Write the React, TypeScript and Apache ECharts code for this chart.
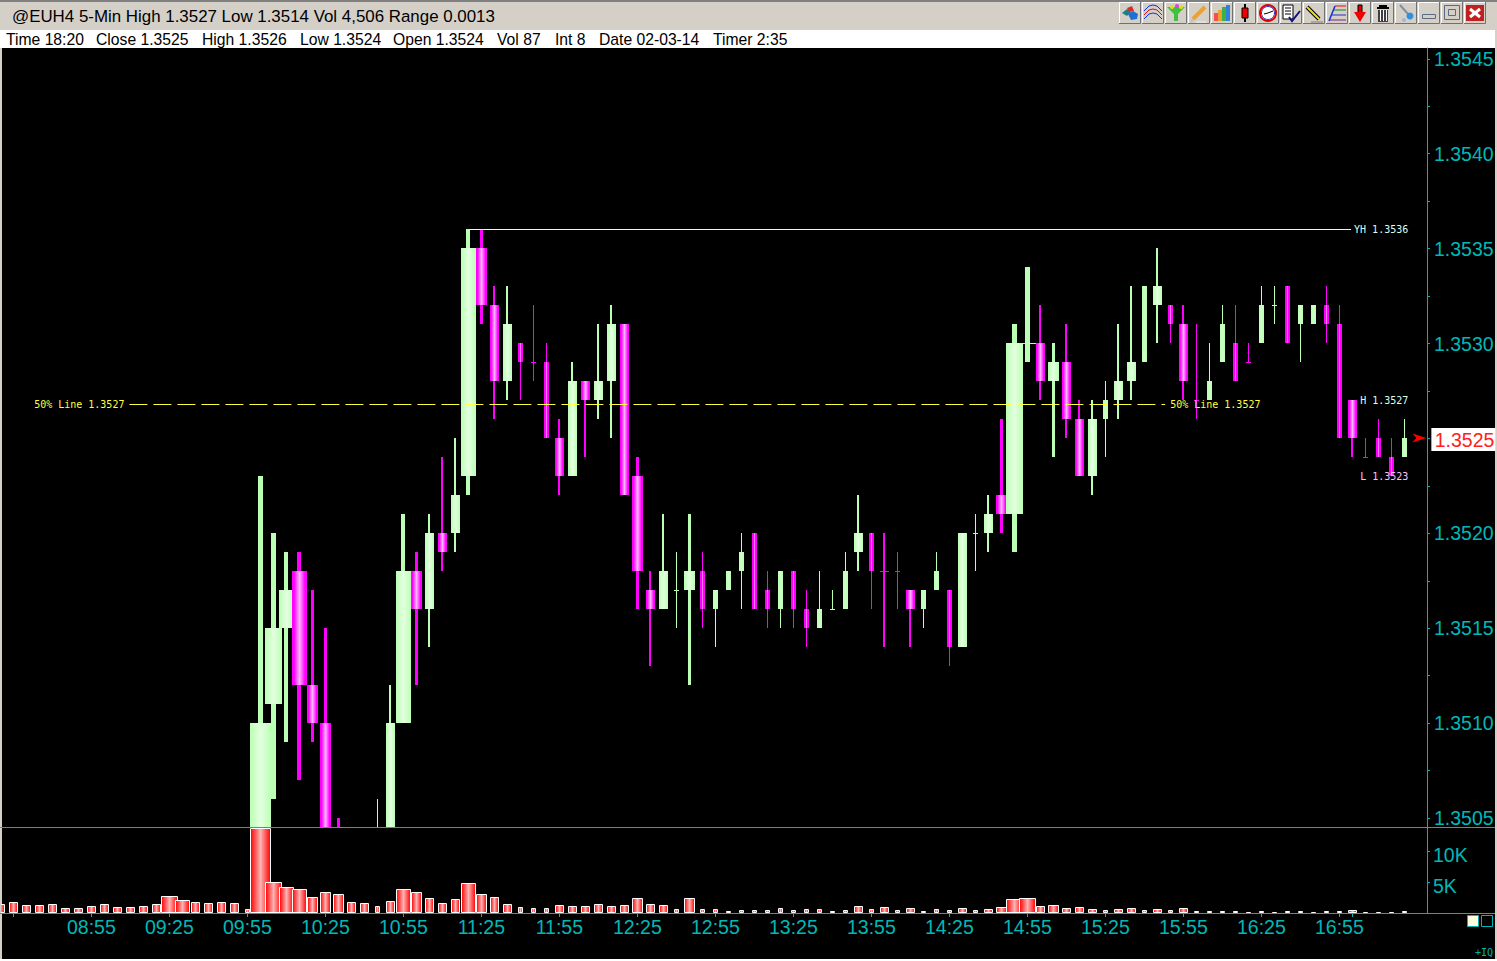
import React, { useEffect, useRef } from "react";
import * as echarts from "echarts";

// Per-bar data for 5-minute bars from 08:20 (index 0) to 17:20 (index 108).
// Bars 0-19 lie wholly below the visible price range, so only their volume is read.
const opens: (number | null)[] = [
  null, null, null, null, null, null, null, null, null, null, null, null, null, null, null, null, null, null, null, null,
  1.3503, 1.3511, 1.3515, 1.3518, 1.3512, 1.3510, 1.3504, 1.3498, 1.3500, 1.3500,
  1.3503, 1.3510, 1.3518, 1.3516, 1.3520, 1.3520, 1.3523, 1.3535, 1.3532, 1.3528,
  1.3530, 1.3529, 1.3529, 1.3525, 1.3523, 1.3528, 1.3527, 1.3528, 1.3531, 1.3523,
  1.3517, 1.3516, 1.3517, 1.3517, 1.3518, 1.3516, 1.3517, 1.3518, 1.3520, 1.3517,
  1.3516, 1.3518, 1.3516, 1.3515, 1.3516, 1.3516, 1.3519, 1.3520, 1.3518, 1.3518,
  1.3517, 1.3516, 1.3517, 1.3517, 1.3514, 1.3520, 1.3520, 1.3522, 1.3521, 1.3530,
  1.3530, 1.3528, 1.3529, 1.3526, 1.3523, 1.3526, 1.3527, 1.3528, 1.3529, 1.3532,
  1.3532, 1.3531, 1.3527, 1.3527, 1.3529, 1.3530, 1.3529, 1.3530, 1.3532, 1.3533,
  1.3531, 1.3531, 1.3532, 1.3531, 1.3527, 1.3524, 1.3525, 1.3524, 1.3524,
];
const highs: (number | null)[] = [
  null, null, null, null, null, null, null, null, null, null, null, null, null, null, null, null, null, null, null, null,
  1.3523, 1.3520, 1.3519, 1.3519, 1.3517, 1.3515, 1.3505, 1.3502, 1.3503, 1.3506,
  1.3512, 1.3521, 1.3519, 1.3521, 1.3524, 1.3525, 1.3536, 1.3536, 1.3533, 1.3533,
  1.3530, 1.3532, 1.3530, 1.3526, 1.3529, 1.3528, 1.3531, 1.3532, 1.3531, 1.3524,
  1.3518, 1.3521, 1.3519, 1.3521, 1.3519, 1.3517, 1.3518, 1.3520, 1.3520, 1.3518,
  1.3518, 1.3518, 1.3517, 1.3518, 1.3517, 1.3519, 1.3522, 1.3520, 1.3520, 1.3519,
  1.3517, 1.3517, 1.3519, 1.3517, 1.3520, 1.3521, 1.3522, 1.3526, 1.3531, 1.3534,
  1.3532, 1.3530, 1.3531, 1.3527, 1.3527, 1.3528, 1.3531, 1.3533, 1.3533, 1.3535,
  1.3532, 1.3532, 1.3531, 1.3530, 1.3532, 1.3532, 1.3530, 1.3533, 1.3533, 1.3533,
  1.3532, 1.3532, 1.3533, 1.3532, 1.3527, 1.3525, 1.3526, 1.3525, 1.3526,
];
const lows: (number | null)[] = [
  null, null, null, null, null, null, null, null, null, null, null, null, null, null, null, null, null, null, null, null,
  1.3500, 1.3506, 1.3509, 1.3507, 1.3509, 1.3500, 1.3498, 1.3496, 1.3498, 1.3498,
  1.3502, 1.3510, 1.3512, 1.3514, 1.3518, 1.3519, 1.3522, 1.3531, 1.3526, 1.3527,
  1.3527, 1.3528, 1.3525, 1.3522, 1.3523, 1.3524, 1.3526, 1.3525, 1.3522, 1.3516,
  1.3513, 1.3516, 1.3515, 1.3512, 1.3515, 1.3514, 1.3517, 1.3516, 1.3516, 1.3515,
  1.3515, 1.3515, 1.3514, 1.3515, 1.3516, 1.3516, 1.3518, 1.3516, 1.3514, 1.3516,
  1.3514, 1.3515, 1.3517, 1.3513, 1.3514, 1.3518, 1.3519, 1.3520, 1.3519, 1.3529,
  1.3527, 1.3524, 1.3525, 1.3523, 1.3522, 1.3524, 1.3526, 1.3527, 1.3529, 1.3530,
  1.3530, 1.3527, 1.3526, 1.3527, 1.3529, 1.3528, 1.3529, 1.3530, 1.3531, 1.3530,
  1.3529, 1.3531, 1.3530, 1.3525, 1.3524, 1.3524, 1.3524, 1.3523, 1.3524,
];
const closes: (number | null)[] = [
  null, null, null, null, null, null, null, null, null, null, null, null, null, null, null, null, null, null, null, null,
  1.3510, 1.3515, 1.3517, 1.3512, 1.3510, 1.3504, 1.3500, 1.3500, 1.3499, 1.3503,
  1.3510, 1.3518, 1.3516, 1.3520, 1.3519, 1.3522, 1.3535, 1.3532, 1.3528, 1.3531,
  1.3529, 1.3529, 1.3525, 1.3523, 1.3528, 1.3527, 1.3528, 1.3531, 1.3522, 1.3518,
  1.3516, 1.3518, 1.3517, 1.3518, 1.3516, 1.3517, 1.3518, 1.3519, 1.3516, 1.3516,
  1.3518, 1.3516, 1.3515, 1.3516, 1.3516, 1.3518, 1.3520, 1.3518, 1.3518, 1.3518,
  1.3516, 1.3517, 1.3518, 1.3514, 1.3520, 1.3520, 1.3521, 1.3521, 1.3530, 1.3530,
  1.3528, 1.3529, 1.3526, 1.3523, 1.3526, 1.3527, 1.3528, 1.3529, 1.3533, 1.3533,
  1.3531, 1.3528, 1.3527, 1.3528, 1.3531, 1.3528, 1.3529, 1.3532, 1.3532, 1.3530,
  1.3532, 1.3532, 1.3531, 1.3525, 1.3525, 1.3524, 1.3524, 1.3523, 1.3525,
];
const volumes: number[] = [
  1450, 1770, 1290, 1290, 1450, 800, 800, 1130, 1450, 970, 970, 1130, 1450, 2740, 2100, 1770, 1610, 1770, 1610, 600,
  13700, 5000, 4190, 3870, 2580, 3390, 3060, 1770, 1610, 1130,
  1930, 3870, 3390, 2420, 1610, 2260, 4840, 3060, 2580, 1450,
  970, 800, 800, 1290, 1130, 1130, 1450, 1130, 1290, 2420,
  1450, 1290, 640, 2420, 640, 640, 320, 480, 480, 480,
  800, 480, 640, 640, 320, 480, 1130, 640, 970, 480,
  800, 320, 640, 480, 800, 480, 640, 970, 2260, 2420,
  1130, 1290, 800, 970, 640, 480, 640, 800, 480, 640,
  480, 800, 320, 320, 320, 320, 160, 320, 160, 320,
  320, 160, 320, 320, 480, 160, 160, 160, 320,
];
// Trading activity class of each bar, drawn as the width of its candle and volume bar.
const activity: number[] = [
  2, 2, 2, 2, 2, 2, 2, 2, 2, 2, 2, 2, 2, 5, 4, 2, 2, 2, 2, 1,
  6, 5, 4, 4, 3, 3, 3, 2, 2, 1,
  2, 4, 3, 2, 2, 2, 4, 3, 2, 2,
  1, 1, 1, 2, 2, 2, 2, 2, 2, 3,
  2, 2, 1, 3, 1, 1, 1, 1, 1, 1,
  1, 1, 1, 1, 1, 1, 2, 1, 2, 1,
  2, 1, 1, 1, 2, 1, 2, 3, 5, 5,
  2, 3, 2, 2, 2, 1, 2, 2, 1, 2,
  1, 2, 1, 1, 1, 1, 1, 1, 1, 1,
  1, 1, 1, 1, 2, 1, 1, 1, 1,
];
// Bars whose open equals their close but which are drawn in the rising colour.
const risingDojiBars = [52, 64, 75, 79, 98];

const priceLabelValues = [1.3505, 1.351, 1.3515, 1.352, 1.353, 1.3535, 1.354, 1.3545];
const priceTickValues = [
  1.3505, 1.35075, 1.351, 1.35125, 1.3515, 1.35175, 1.352, 1.35225, 1.3525, 1.35275, 1.353, 1.35325,
  1.3535, 1.35375, 1.354, 1.35425, 1.3545,
];
const volumeLabelValues = [5000, 10000];
const timeLabels = [
  "08:55", "09:25", "09:55", "10:25", "10:55", "11:25", "11:55", "12:25", "12:55",
  "13:25", "13:55", "14:25", "14:55", "15:25", "15:55", "16:25", "16:55",
];
const timeLabelBars = [7, 13, 19, 25, 31, 37, 43, 49, 55, 61, 67, 73, 79, 85, 91, 97, 103];
const timeTickBars = [1, 7, 13, 19, 25, 31, 37, 43, 49, 55, 61, 67, 73, 79, 85, 91, 97, 103, 104];
const titleText = "@EUH4 5-Min High 1.3527 Low 1.3514 Vol 4,506 Range 0.0013";
const statusItems = [
  "Time 18:20", "Close 1.3525", "High 1.3526", "Low 1.3524", "Open 1.3524", "Vol 87", "Int 8", "Date 02-03-14", "Timer 2:35",
];
const yesterdayHigh = 1.3536;
const fiftyPercent = 1.35268;
const sessionHigh = 1.3527;
const sessionLow = 1.3523;
const lastPrice = 1.3525;

const TEAL = "#00B4B4";
const TEAL_TEXT = "#00B8B8";
const GREEN = "#BBFFB4";
const MAGENTA = "#FF00FF";
const BODY_WIDTH: Record<number, number> = { 1: 5, 2: 9, 3: 11, 4: 15, 5: 17, 6: 21 };
const WICK_WIDTH: Record<number, number> = { 1: 1, 2: 2, 3: 3, 4: 4, 5: 5, 6: 5 };
const MONO = '10px "DejaVu Sans Mono"';
const SANS = "Liberation Sans";
const AXIS_FONT = 19.5;
const STATUS_X = [6, 96, 202, 300, 393, 497, 555, 599, 713];

const gradient = (edge: string, mid: string, inner = 0) =>
  new echarts.graphic.LinearGradient(0, 0, 1, 0, [
    { offset: 0, color: edge },
    { offset: inner, color: edge },
    { offset: 0.5, color: mid },
    { offset: 1 - inner, color: edge },
    { offset: 1, color: edge },
  ]);

function renderCandle(_: any, api: any) {
  const i = api.value(0);
  const o = api.value(1);
  const h = api.value(2);
  const l = api.value(3);
  const c = api.value(4);
  const cls = api.value(5);
  const up = c > o || (c === o && risingDojiBars.includes(i));
  const x = api.coord([i, o])[0];
  const yHigh = Math.floor(api.coord([i, h])[1]);
  const yLow = Math.floor(api.coord([i, l])[1]);
  const yTop = Math.floor(api.coord([i, Math.max(o, c)])[1]);
  const yBot = Math.floor(api.coord([i, Math.min(o, c)])[1]);
  const bw = BODY_WIDTH[cls];
  const ww = WICK_WIDTH[cls];
  const solid = up ? GREEN : MAGENTA;
  const fill = up
    ? gradient(GREEN, bw > 5 ? "#E4FFE0" : "#CCFFC4")
    : gradient(MAGENTA, bw > 5 ? "#FFB4FF" : "#FF70FF", bw > 5 ? 0.14 : 0.3);
  return {
    type: "group",
    children: [
      { type: "rect", shape: { x: Math.round(x - ww / 2), y: yHigh, width: ww, height: Math.max(1, yLow - yHigh) }, style: { fill: solid } },
      { type: "rect", shape: { x: Math.round(x - bw / 2), y: yTop, width: bw, height: Math.max(1, yBot - yTop) }, style: { fill: yBot > yTop ? fill : solid } },
    ],
  };
}

function renderVolume(_: any, api: any) {
  const i = api.value(0);
  const top = api.coord([i, api.value(1)]);
  const base = api.coord([i, 0]);
  const w = BODY_WIDTH[api.value(2)];
  const x = Math.round(top[0] - w / 2);
  const yTop = Math.round(top[1]);
  return {
    type: "rect",
    shape: { x: x + 0.5, y: yTop + 0.5, width: w - 1, height: Math.max(1, Math.round(base[1]) - yTop - 1) },
    style: { fill: gradient("#FF0000", "#FFB4B4"), stroke: "#FFFFFF", lineWidth: 1 },
  };
}

function renderLevel(_: any, api: any) {
  const kind = api.value(3);
  const a = api.coord([api.value(0), api.value(2)]);
  const b = api.coord([api.value(1), api.value(2)]);
  const y = Math.floor(a[1]) + 0.5;
  const txt = (text: string, x: number, fill: string, align = "left") => ({
    type: "text",
    style: { text, x, y, fill, font: MONO, align, verticalAlign: "middle" },
  });
  if (kind === 0) {
    return {
      type: "group",
      children: [
        { type: "line", shape: { x1: a[0], y1: y, x2: b[0], y2: y }, style: { stroke: "#D8FFF0", lineWidth: 1 } },
        txt("YH 1.3536", b[0] + 3, "#D8FFF0"),
      ],
    };
  }
  if (kind === 1) {
    return {
      type: "group",
      children: [
        { type: "line", shape: { x1: a[0], y1: y, x2: b[0], y2: y }, style: { stroke: "#FFFF40", lineWidth: 1, lineDash: [18, 6] } },
        txt("50% Line 1.3527", a[0] - 5, "#FFFF40", "right"),
        txt("50% Line 1.3527", b[0] + 5, "#FFFF40"),
      ],
    };
  }
  return kind === 2 ? txt("H 1.3527", a[0], "#D8FFF0") : txt("L 1.3523", a[0], "#FFC0FF");
}

function renderLast(_: any, api: any) {
  const p = api.coord([api.value(0), api.value(1)]);
  const x = p[0];
  const y = Math.round(p[1]);
  return {
    type: "group",
    children: [
      { type: "polygon", shape: { points: [[x + 8, y - 4.5], [x + 22, y], [x + 8, y + 4.5], [x + 12, y]] }, style: { fill: "#FF0000" } },
      { type: "rect", shape: { x: x + 27, y: y - 10, width: 64, height: 23 }, style: { fill: "#FFFFFF" } },
      { type: "text", style: { text: "1.3525", x: x + 90, y: y + 2, fill: "#FF2020", font: `${AXIS_FONT}px "${SANS}"`, align: "right", verticalAlign: "middle" } },
    ],
  };
}

const r = (x: number, y: number, w: number, h: number, fill: string, stroke?: string) => ({
  type: "rect", shape: { x, y, width: w, height: h }, style: { fill, stroke, lineWidth: 1 },
});
const ln = (pts: number[][], stroke: string, lineWidth = 1) => ({
  type: "polyline", shape: { points: pts }, style: { stroke, lineWidth, fill: "none" },
});
const pg = (pts: number[][], fill: string) => ({ type: "polygon", shape: { points: pts }, style: { fill } });
const ci = (cx: number, cy: number, rad: number, fill: string, stroke?: string, lineWidth = 1) => ({
  type: "circle", shape: { cx, cy, r: rad }, style: { fill, stroke, lineWidth },
});

const toolbarIcons: any[][] = [
  [pg([[3, 11], [8, 7], [12, 10], [8, 14]], "#208080"), pg([[8, 6], [13, 4], [15, 9], [10, 10]], "#D03030"), pg([[9, 12], [14, 9], [19, 12], [18, 17], [12, 18]], "#2070D0")],
  [ln([[2, 9], [7, 4], [11, 3], [15, 4], [20, 9]], "#1030E0"), ln([[2, 13], [7, 8], [11, 7], [15, 8], [20, 13]], "#E01010"), ln([[2, 17], [7, 12], [11, 11], [15, 12], [20, 17]], "#1030E0")],
  [pg([[2, 5], [20, 5], [13, 12], [13, 19], [9, 19], [9, 12]], "#40C040"), ci(7, 5, 2, "#E0E020"), ci(12, 4, 2, "#E040E0"), ci(16, 5, 2, "#E0E020")],
  [ln([[5, 17], [17, 5]], "#F0A030", 4), ln([[3, 20], [5, 17]], "#C0C0C0", 2), ln([[8, 20], [18, 20]], "#F0F0F0", 1)],
  [r(3, 11, 4, 8, "#F05050"), r(7, 8, 4, 11, "#F0A030"), r(11, 5, 4, 14, "#40B040"), r(15, 3, 4, 16, "#3080E0")],
  [r(10, 2, 2, 18, "#000000"), r(8, 6, 6, 10, "#F00000", "#000000")],
  [ci(11, 11, 8, "#FFFFFF", "#E00000", 2), ci(11, 11, 6.5, "none", "#2030C0", 1), ln([[11, 11], [16, 9]], "#000000"), ln([[11, 11], [7, 12]], "#000000")],
  [r(3, 3, 10, 14, "#FFFFFF", "#000000"), ln([[5, 6], [11, 6]], "#000000"), ln([[5, 9], [11, 9]], "#000000"), ln([[5, 12], [11, 12]], "#000000"), ln([[9, 15], [12, 19], [20, 9]], "#101080", 2)],
  [ln([[4, 5], [16, 17]], "#000000", 4), ln([[4, 5], [16, 17]], "#F0E020", 2), ln([[8, 20], [20, 20]], "#808080", 1)],
  [ln([[3, 19], [9, 4]], "#1030E0", 1.5), ln([[9, 4], [20, 4]], "#E01010"), ln([[8, 8], [20, 8]], "#208020"), ln([[6, 13], [20, 13]], "#2030C0"), ln([[4, 18], [20, 18]], "#802080")],
  [r(9, 3, 4, 8, "#E00000", "#000000"), pg([[5, 10], [17, 10], [11, 20]], "#F00000")],
  [r(7, 3, 8, 2, "#000000"), r(5, 5, 12, 2, "#000000"), r(6, 8, 10, 12, "#404040"), r(8, 8, 1, 11, "#FFFFFF"), r(11, 8, 1, 11, "#FFFFFF"), r(14, 8, 1, 11, "#FFFFFF")],
  [ln([[5, 3], [13, 12]], "#8090A0", 2), ci(15, 14, 3.5, "#3090E0"), ci(9, 18, 2, "#A0B8D0")],
  [r(4.5, 12.5, 13, 4, "#D4D0C8", "#5A6A80")],
  [r(3.5, 3.5, 15, 14, "#D4D0C8", "#5A6A80"), r(7.5, 7.5, 7, 6, "#D4D0C8", "#5A6A80")],
  [r(2, 3, 18, 16, "#C02020"), ln([[6, 7], [16, 15]], "#FFFFFF", 3), ln([[16, 7], [6, 15]], "#FFFFFF", 3)],
];

const buttonGroups = toolbarIcons.map((icon, i) => ({
  type: "group",
  x: 1119 + i * 23,
  y: 2,
  children: [
    r(0, 0, 22, 22, "#D4D0C8"),
    ln([[0.5, 22], [0.5, 0.5], [22, 0.5]], "#FFFFFF"),
    ln([[0, 21.5], [21.5, 21.5], [21.5, 0]], "#707070"),
    ...icon,
  ],
}));

export default function App() {
  const ref = useRef<HTMLDivElement>(null);
  useEffect(() => {
    document.body.style.margin = "0";
    const chart = echarts.init(ref.current!, undefined, { renderer: "svg" });
    const barRows = opens
      .map((o, i) => [i, o, highs[i], lows[i], closes[i], activity[i]])
      .filter((row) => row[1] !== null);
    const volumeRows = volumes.map((v, i) => [i, v, activity[i]]);
    const xMin = 0.05;
    const xMax = 0.05 + 1426 / 13;
    chart.setOption({
      animation: false,
      backgroundColor: "#D4D0C8",
      grid: [
        { left: 1, right: 70, top: 48, height: 779 },
        { left: 1, right: 70, top: 827, height: 86 },
      ],
      xAxis: [
        { gridIndex: 0, type: "value", min: xMin, max: xMax, show: false, splitLine: { show: false } },
        {
          gridIndex: 1,
          type: "value",
          min: xMin,
          max: xMax,
          splitLine: { show: false },
          axisLine: { show: true, onZero: false, lineStyle: { color: TEAL } },
          axisTick: { show: true, length: 4, customValues: timeTickBars, lineStyle: { color: TEAL } },
          axisLabel: {
            show: true,
            customValues: timeLabelBars,
            color: TEAL_TEXT,
            fontFamily: SANS,
            fontSize: AXIS_FONT,
            margin: 4,
            formatter: (v: number) => timeLabels[timeLabelBars.indexOf(v)] ?? "",
          },
        },
      ],
      yAxis: [
        {
          gridIndex: 0,
          type: "value",
          position: "right",
          min: 1.350453,
          max: 1.354557,
          splitLine: { show: false },
          axisLine: { show: true, onZero: false, lineStyle: { color: TEAL } },
          axisTick: { show: true, length: 3, customValues: priceTickValues, lineStyle: { color: TEAL } },
          axisLabel: {
            show: true,
            customValues: priceLabelValues,
            color: TEAL_TEXT,
            fontFamily: SANS,
            fontSize: AXIS_FONT,
            margin: 7,
            formatter: (v: number) => v.toFixed(4),
          },
        },
        {
          gridIndex: 1,
          type: "value",
          position: "right",
          min: 0,
          max: 13871,
          splitLine: { show: false },
          axisLine: { show: true, onZero: false, lineStyle: { color: TEAL } },
          axisTick: { show: true, length: 3, customValues: volumeLabelValues, lineStyle: { color: TEAL } },
          axisLabel: {
            show: true,
            customValues: volumeLabelValues,
            color: TEAL_TEXT,
            fontFamily: SANS,
            fontSize: AXIS_FONT,
            margin: 6,
            verticalAlign: "top",
            lineHeight: 8,
            formatter: (v: number) => `${v / 1000}K`,
          },
        },
      ],
      series: [
        { type: "custom", name: "Levels", xAxisIndex: 0, yAxisIndex: 0, z: 3, clip: true, renderItem: renderLevel, silent: true,
          data: [
            [36.1, 103.9, yesterdayHigh, 0],
            [9.93, 89.6, fiftyPercent, 1],
            [104.6, 104.6, sessionHigh, 2],
            [104.6, 104.6, sessionLow, 3],
          ] },
        { type: "custom", name: "@EUH4", xAxisIndex: 0, yAxisIndex: 0, z: 2, clip: true, renderItem: renderCandle, silent: true, data: barRows },
        { type: "custom", name: "Volume", xAxisIndex: 1, yAxisIndex: 1, z: 2, clip: true, renderItem: renderVolume, silent: true, data: volumeRows },
        { type: "custom", name: "Last", xAxisIndex: 0, yAxisIndex: 0, z: 5, renderItem: renderLast, silent: true, data: [[108, lastPrice]] },
      ],
      graphic: [
        { type: "rect", z: -5, shape: { x: 0, y: 0, width: 1497, height: 2 }, style: { fill: "#808080" } },
        { type: "rect", z: -5, shape: { x: 0, y: 30, width: 1495, height: 18 }, style: { fill: "#FFFFFF" } },
        { type: "rect", z: -5, shape: { x: 2, y: 48, width: 1493, height: 911 }, style: { fill: "#000000" } },
        { type: "rect", z: -5, shape: { x: 0, y: 959, width: 1497, height: 2 }, style: { fill: "#FFFFFF" } },
        { type: "line", z: 1, shape: { x1: 0, y1: 827.5, x2: 1495, y2: 827.5 }, style: { stroke: TEAL, lineWidth: 1 } },
        { type: "line", z: 1, shape: { x1: 0, y1: 913.5, x2: 1495, y2: 913.5 }, style: { stroke: TEAL, lineWidth: 1 } },
        { type: "text", x: 12, y: 8, style: { text: titleText, fill: "#000000", font: `16.9px "${SANS}"` } },
        ...statusItems.map((text, i) => ({ type: "text", x: STATUS_X[i], y: 31, style: { text, fill: "#000000", font: `15.7px "${SANS}"` } })),
        ...buttonGroups,
        { type: "rect", z: 1, shape: { x: 1467.5, y: 915.5, width: 11, height: 11 }, style: { fill: "#FFFFE0", stroke: TEAL, lineWidth: 1 } },
        { type: "rect", z: 1, shape: { x: 1481.5, y: 915.5, width: 11, height: 11 }, style: { fill: "#000000", stroke: TEAL, lineWidth: 1 } },
        { type: "text", z: 1, x: 1475, y: 947, style: { text: "+IQ", fill: TEAL, font: MONO } },
      ],
    });
    return () => chart.dispose();
  }, []);
  return <div ref={ref} style={{ position: "fixed", left: 0, top: 0, width: 1497, height: 961 }} />;
}
